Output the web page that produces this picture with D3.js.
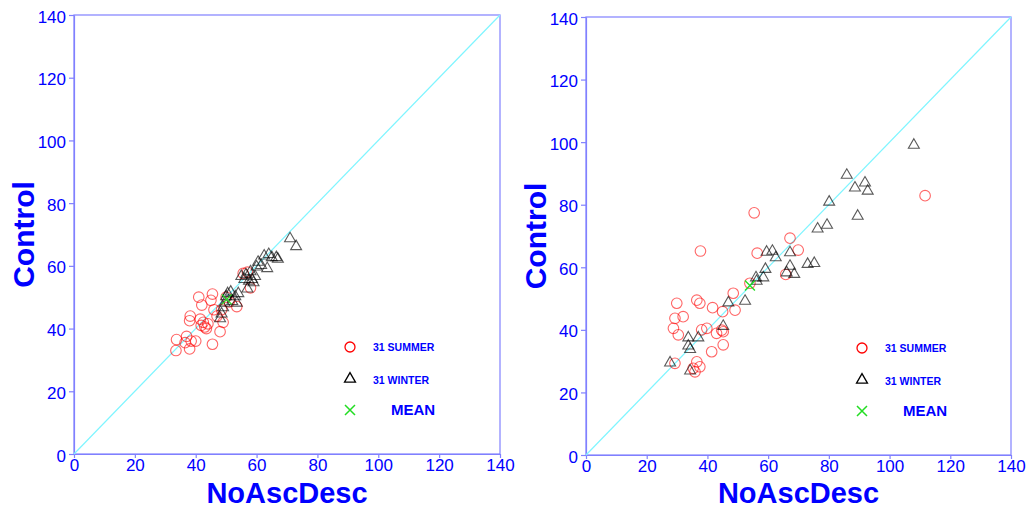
<!DOCTYPE html>
<html>
<head>
<meta charset="utf-8">
<script src="https://cdn.jsdelivr.net/npm/d3@7/dist/d3.min.js"></script>
<style>
  html, body { margin: 0; padding: 0; background: #fff; }
  svg { display: block; font-family: "Liberation Sans", Arial, Helvetica, sans-serif; }
</style>
</head>
<body>
<svg id="chart" width="1027" height="509"></svg>
<script>
// --- data (NoAscDesc, Control) ---
const ticks = [0, 20, 40, 60, 80, 100, 120, 140];

const leftSummer = [
  [33.5, 33.0], [33.7, 36.5], [36.5, 35.5], [37.0, 37.5], [38.0, 33.5], [38.5, 36.0],
  [38.0, 42.5], [38.2, 44.0], [40.0, 36.0], [41.0, 50.0], [41.5, 43.0], [41.8, 41.0],
  [42.0, 47.5], [42.5, 42.0], [43.0, 40.5], [43.5, 40.0], [44.0, 41.5], [45.0, 49.0],
  [45.5, 51.0], [45.5, 35.0], [46.0, 46.0], [47.0, 44.0], [48.0, 39.0], [48.5, 46.0],
  [49.0, 42.0], [50.0, 50.0], [53.5, 47.0], [55.6, 57.6], [57.0, 58.0], [58.0, 53.0],
  [51.0, 48.5]
];
const leftWinter = [
  [48.0, 43.5], [48.5, 45.0], [49.0, 47.0], [49.5, 48.5], [50.0, 50.5], [50.5, 51.5],
  [51.5, 52.0], [52.0, 49.0], [53.5, 48.5], [53.0, 50.5], [55.0, 57.0], [56.5, 57.5],
  [57.0, 53.0], [57.5, 55.5], [58.5, 56.0], [59.0, 55.0], [59.5, 57.0], [58.0, 58.5],
  [60.0, 60.0], [60.5, 61.5], [61.5, 60.5], [62.5, 63.5], [63.5, 59.5], [64.0, 64.0],
  [65.0, 63.0], [66.5, 63.0], [67.0, 62.5], [71.0, 69.0], [73.0, 66.5], [56.0, 56.0],
  [54.0, 51.5]
];
const leftMean = [[50.2, 49.3]];

const rightSummer = [
  [111.7, 82.9], [55.4, 77.4], [67.2, 69.3], [69.9, 65.5], [37.7, 65.2], [56.4, 64.5],
  [65.8, 57.7], [54.0, 54.9], [48.5, 51.7], [49.1, 46.3], [29.9, 48.5], [36.5, 49.5],
  [37.5, 48.5], [41.7, 47.1], [45.0, 45.8], [29.3, 43.7], [32.0, 44.2], [28.8, 40.5],
  [30.4, 38.4], [38.1, 40.0], [39.8, 40.5], [43.0, 38.9], [44.7, 39.9], [45.2, 39.4],
  [41.4, 33.0], [45.2, 35.2], [36.5, 29.8], [37.5, 28.2], [35.9, 26.6], [35.3, 27.7],
  [29.3, 29.3]
];
const rightWinter = [
  [108.0, 99.4], [85.9, 89.8], [88.6, 85.7], [91.9, 87.3], [92.8, 84.7], [80.1, 81.2],
  [89.5, 76.7], [76.3, 72.6], [79.4, 73.8], [59.5, 65.2], [61.4, 65.5], [62.5, 63.4],
  [67.2, 65.0], [59.1, 59.7], [73.0, 61.3], [75.2, 61.6], [67.2, 60.7], [66.1, 58.6],
  [68.6, 58.1], [56.0, 57.0], [58.4, 57.0], [56.2, 55.9], [46.9, 49.0], [52.4, 49.5],
  [45.2, 41.5], [33.7, 37.8], [37.0, 37.8], [33.7, 35.2], [34.3, 34.1], [27.7, 29.8],
  [34.3, 27.2]
];
const rightMean = [[54.0, 54.2]];

const legendLabels = ["31 SUMMER", "31 WINTER", "MEAN"];

// --- panels ---
const panels = [
  { left: 74, right: 500, bottom: 454, top: 15, summer: leftSummer, winter: leftWinter, mean: leftMean },
  { left: 586, right: 1011, bottom: 455, top: 17, summer: rightSummer, winter: rightWinter, mean: rightMean }
];

const svg = d3.select("#chart");
const blue = "#0000ff";
const frame = "#8080ff";

const triangle = d3.symbol().type(d3.symbolTriangle).size(52);
const cross = s => `M${-s},${-s}L${s},${s}M${-s},${s}L${s},${-s}`;

panels.forEach(p => {
  const x = d3.scaleLinear().domain([0, 140]).range([p.left, p.right]);
  const y = d3.scaleLinear().domain([0, 140]).range([p.bottom, p.top]);
  const g = svg.append("g");

  // frame box
  g.append("rect")
    .attr("x", x(0)).attr("y", y(140))
    .attr("width", x(140) - x(0)).attr("height", y(0) - y(140))
    .attr("fill", "none").attr("stroke", frame).attr("stroke-width", 1.2);

  // axes
  const xa = g.append("g")
    .attr("transform", `translate(0,${y(0)})`)
    .call(d3.axisBottom(x).tickValues(ticks).tickSize(4).tickPadding(1).tickSizeOuter(0));
  const ya = g.append("g")
    .attr("transform", `translate(${x(0)},0)`)
    .call(d3.axisLeft(y).tickValues(ticks).tickSize(5).tickPadding(3).tickSizeOuter(0));
  [xa, ya].forEach(a => {
    a.select(".domain").attr("stroke", frame).attr("stroke-width", 1.2);
    a.selectAll(".tick line").attr("stroke", frame).attr("stroke-width", 1.2);
    a.selectAll(".tick text")
      .attr("fill", blue).attr("font-size", 17)
      .attr("font-family", "'Liberation Sans', Arial, sans-serif");
  });
  ya.selectAll(".tick text").attr("dy", "0.42em");

  // diagonal y = x
  g.append("line")
    .attr("x1", x(0)).attr("y1", y(0))
    .attr("x2", x(140)).attr("y2", y(140))
    .attr("stroke", "#7ff5ff").attr("stroke-width", 1.2);

  // summer circles
  g.append("g").selectAll("circle")
    .data(p.summer).enter().append("circle")
    .attr("cx", d => x(d[0])).attr("cy", d => y(d[1]))
    .attr("r", 5.3)
    .attr("fill", "none").attr("stroke", "#ff0000")
    .attr("stroke-opacity", 0.6).attr("stroke-width", 1.1);

  // winter triangles
  g.append("g").selectAll("path")
    .data(p.winter).enter().append("path")
    .attr("d", triangle)
    .attr("transform", d => `translate(${x(d[0])},${y(d[1]) + 1})`)
    .attr("fill", "none").attr("stroke", "#000")
    .attr("stroke-opacity", 0.65).attr("stroke-width", 1.1);

  // mean cross
  g.append("g").selectAll("path")
    .data(p.mean).enter().append("path")
    .attr("d", cross(5))
    .attr("transform", d => `translate(${x(d[0])},${y(d[1])})`)
    .attr("stroke", "#22dd22").attr("stroke-width", 1.3);

  // axis titles
  g.append("text")
    .attr("x", (p.left + p.right) / 2)
    .attr("y", 503)
    .attr("text-anchor", "middle")
    .attr("font-size", 29).attr("font-weight", "bold")
    .attr("fill", blue)
    .text("NoAscDesc");
  g.append("text")
    .attr("transform", `translate(${p.left - 40},${(p.top + p.bottom) / 2}) rotate(-90)`)
    .attr("text-anchor", "middle")
    .attr("font-size", 30).attr("font-weight", "bold")
    .attr("fill", blue)
    .text("Control");

  // legend
  const lx = p.left + 276, ly = p.bottom - 107;
  const leg = g.append("g").attr("transform", `translate(${lx},${ly})`);
  leg.append("circle").attr("cx", 0).attr("cy", 0).attr("r", 5)
    .attr("fill", "none").attr("stroke", "#ff0000").attr("stroke-width", 1.3);
  leg.append("path").attr("d", triangle).attr("transform", "translate(0,32)")
    .attr("fill", "none").attr("stroke", "#000").attr("stroke-width", 1.3);
  leg.append("path").attr("d", cross(5)).attr("transform", "translate(0,63)")
    .attr("stroke", "#22dd22").attr("stroke-width", 1.5);
  leg.selectAll("text.small")
    .data(legendLabels.slice(0, 2)).enter().append("text")
    .attr("x", 23).attr("y", (d, i) => 4 + i * 32.5)
    .attr("font-size", 10.5).attr("font-weight", "bold")
    .attr("fill", blue).text(d => d);
  leg.append("text")
    .attr("x", 41).attr("y", 68)
    .attr("font-size", 15).attr("font-weight", "bold")
    .attr("fill", blue).text(legendLabels[2]);
});
</script>
</body>
</html>
